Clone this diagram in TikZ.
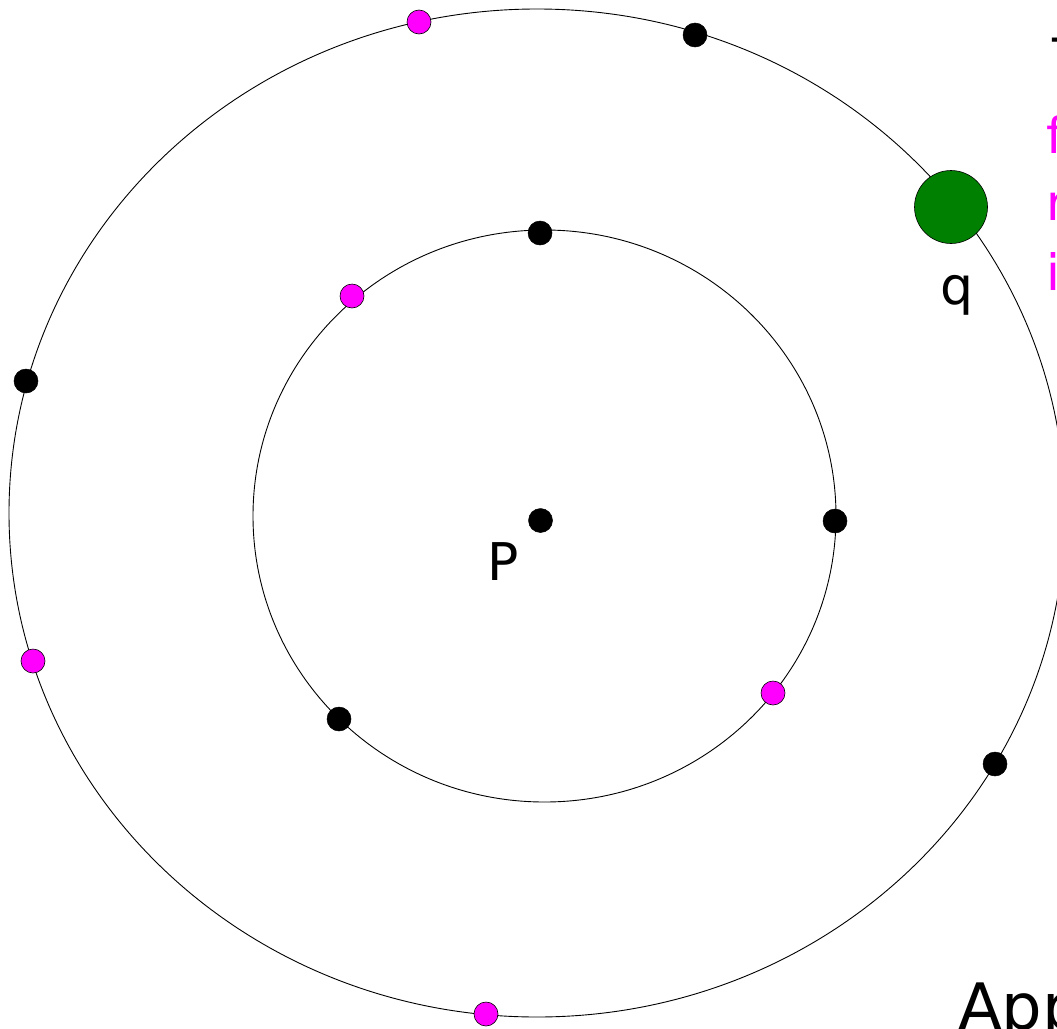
\documentclass[tikz,border=0pt]{standalone}
\usepackage{fontspec}
\setmainfont{DejaVu Sans}
\definecolor{mag}{RGB}{255,0,255}
\definecolor{qgreen}{RGB}{0,128,0}
\begin{document}
\begin{tikzpicture}[x=1pt,y=-1pt,
  orbit/.style={draw=black,line width=0.9pt},
  bdot/.style={circle,fill=black,draw=black,line width=0.5pt,minimum size=24pt,inner sep=0pt},
  mdot/.style={circle,fill=mag,draw=black,line width=0.6pt,minimum size=24pt,inner sep=0pt},
  gdot/.style={circle,fill=qgreen,draw=black,line width=0.6pt,minimum size=73pt,inner sep=0pt},
  lbl/.style={inner sep=0pt,font=\fontsize{52}{60}\selectfont},
  side/.style={inner sep=0pt,anchor=base west,text=mag,font=\fontsize{50}{60}\selectfont}]
\useasboundingbox (0,0) rectangle (1057,1028);
\fill[white] (0,0) rectangle (1057,1028);
% orbits
\draw[orbit] (537,513) ellipse [x radius=528,y radius=504];
\draw[orbit] (544.5,516) ellipse [x radius=291.5,y radius=286];
% dots on outer orbit
\node[mdot] (o1) at (419,22) {};
\node[bdot] (o2) at (695,35) {};
\node[bdot] (o3) at (26,381) {};
\node[mdot] (o4) at (33,661) {};
\node[mdot] (o5) at (486,1014) {};
\node[bdot] (o6) at (995,764) {};
\node[gdot] (q) at (951,207) {};
% dots on inner orbit
\node[bdot] (i1) at (540,233) {};
\node[mdot] (i2) at (352,296) {};
\node[bdot] (i3) at (835,521) {};
\node[mdot] (i4) at (773,693) {};
\node[bdot] (i5) at (339,719) {};
% centre
\node[bdot] (p) at (540.5,520.5) {};
% labels
\node[lbl,anchor=base west] (plbl) at (487,580) {P};
\node[lbl,anchor=base west] (qlbl) at (940,304) {q};
% partially visible texts at the right edge
\node[inner sep=0pt,anchor=north west,font=\fontsize{50}{60}\selectfont] (t0) at (1052,38) {T};
\node[side] (s1) at (1046,153) {f};
\node[side] (s2) at (1046,220) {r};
\node[side] (s3) at (1046,290) {i};
\node[inner sep=0pt,anchor=base west,font=\fontsize{64}{70}\selectfont] (appr) at (958,1029) {Appr};
\end{tikzpicture}
\end{document}
